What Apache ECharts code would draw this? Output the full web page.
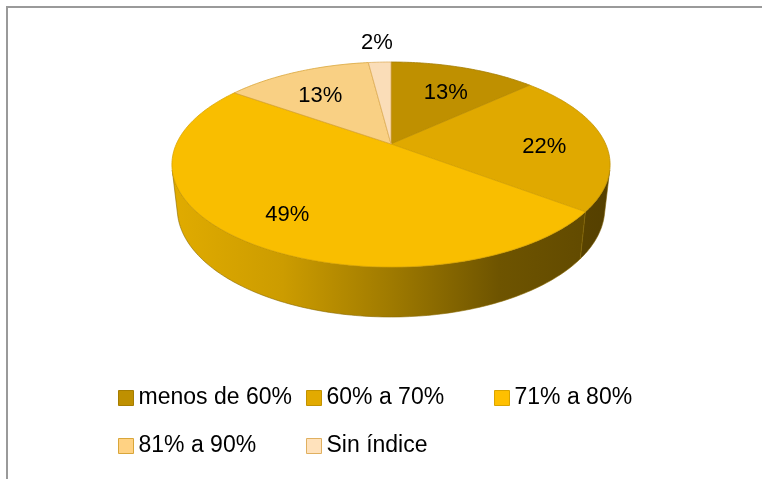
<!DOCTYPE html>
<html>
<head>
<meta charset="utf-8">
<script src="https://cdn.jsdelivr.net/npm/echarts@6/dist/echarts.min.js"></script>
<style>
  html, body { margin: 0; padding: 0; background: #fff; }
  #chart { width: 762px; height: 479px; }
</style>
</head>
<body>
<div id="chart"></div>
<script>
const categories = ['menos de 60%', '60% a 70%', '71% a 80%', '81% a 90%', 'Sin índice'];
const values = [13, 22, 49, 13, 2];
const topColors = ['#BF9000', '#E0A900', '#F9BE00', '#F9D084', '#FADDB8'];
const legendColors = ['#BF9000', '#E2AA00', '#FFC000', '#FFD283', '#FFE2BC'];
const edgeColors = ['#A67D00', '#C29200', '#D9A400', '#D9A63A', '#E0B060'];

// cumulative fractions of the whole pie
const total = values.reduce((s, v) => s + v, 0);
const starts = [];
const ends = [];
let acc = 0;
values.forEach(v => {
  starts.push(acc / total);
  acc += v;
  ends.push(acc / total);
});

// simple perspective camera for the tilted pie
const CX = 391, CY = 144;
const P = 4.44, SA = 0.4585, CA = 0.889, S = 953, H = 0.231;

function proj(r, phi, y) {
  const X = r * Math.sin(phi);
  const Z = -r * Math.cos(phi);
  const d = P - (y * SA + Z * CA);
  return [CX + S * X / d, CY + S * (-y * CA + Z * SA) / d];
}

function arc(r, a, b, y) {
  const pts = [];
  const n = Math.max(2, Math.ceil(Math.abs(b - a) / (Math.PI / 180)));
  for (let k = 0; k <= n; k++) {
    pts.push(proj(r, a + (b - a) * k / n, y));
  }
  return pts;
}

function shade(hex, f) {
  const n = parseInt(hex.slice(1), 16);
  const r = Math.round(((n >> 16) & 255) * f);
  const g = Math.round(((n >> 8) & 255) * f);
  const b = Math.round((n & 255) * f);
  return 'rgb(' + r + ',' + g + ',' + b + ')';
}

const visFrom = Math.acos(-1 / (P * CA));
const visTo = 2 * Math.PI - visFrom;
const leftX = proj(1, 1.5 * Math.PI, 0)[0] - 2;
const rightX = proj(1, 0.5 * Math.PI, 0)[0] + 2;

function renderSlice(params, api) {
  const i = params.seriesIndex;
  const a = starts[i] * 2 * Math.PI;
  const b = ends[i] * 2 * Math.PI;
  const children = [];

  // top face
  const topPts = [proj(0, 0, 0)].concat(arc(1, a, b, 0));
  children.push({
    type: 'polygon',
    shape: { points: topPts },
    style: { fill: topColors[i], stroke: edgeColors[i], lineWidth: 0.8 },
    z2: 10
  });

  // front wall
  const lo = Math.max(a, visFrom);
  const hi = Math.min(b, visTo);
  if (lo < hi) {
    const wallPts = arc(1, lo, hi, 0).concat(arc(1, hi, lo, -H));
    const base = topColors[i];
    children.push({
      type: 'polygon',
      shape: { points: wallPts },
      style: {
        fill: new echarts.graphic.LinearGradient(leftX, 0, rightX, 0, [
          { offset: 0, color: shade(base, 0.9) },
          { offset: 0.25, color: shade(base, 0.82) },
          { offset: 0.5, color: shade(base, 0.64) },
          { offset: 0.75, color: shade(base, 0.44) },
          { offset: 1, color: shade(base, 0.38) }
        ], true),
        stroke: shade(base, 0.55),
        lineWidth: 0.6
      },
      z2: 1
    });
  }

  // percentage label
  const frac = values[i] / total;
  const mid = (a + b) / 2;
  const inside = frac >= 0.05;
  const pos = proj(inside ? 0.72 : 1.3, mid, 0);
  children.push({
    type: 'text',
    x: pos[0],
    y: pos[1] + (inside ? 6 : 0),
    style: {
      text: values[i] + '%',
      fill: '#000',
      fontSize: 22,
      fontFamily: 'Liberation Sans',
      align: 'center',
      verticalAlign: 'middle'
    },
    z2: 20
  });

  return { type: 'group', children: children };
}

const chart = echarts.init(document.getElementById('chart'));

function legendCol(names, left) {
  return {
    orient: 'vertical',
    left: left,
    top: 386,
    padding: 0,
    itemGap: 24,
    itemWidth: 15,
    itemHeight: 15,
    icon: 'rect',
    selectedMode: false,
    textStyle: { fontSize: 23, fontFamily: 'Liberation Sans', color: '#000', lineHeight: 24 },
    data: names.map(n => {
      const k = categories.indexOf(n);
      return { name: n, itemStyle: { color: legendColors[k], borderColor: edgeColors[k], borderWidth: 1 } };
    })
  };
}

const option = {
  animation: false,
  graphic: [{
    type: 'rect',
    shape: { x: 7, y: 7, width: 800, height: 500 },
    style: { fill: 'none', stroke: '#9a9a9a', lineWidth: 2 },
    silent: true
  }],
  legend: [
    legendCol([categories[0], categories[3]], 118),
    legendCol([categories[1], categories[4]], 306),
    legendCol([categories[2]], 494)
  ],
  series: categories.map((name, i) => ({
    type: 'custom',
    name: name,
    coordinateSystem: 'none',
    silent: true,
    itemStyle: { color: legendColors[i], borderColor: edgeColors[i], borderWidth: 1 },
    data: [[values[i]]],
    renderItem: renderSlice
  }))
};

chart.setOption(option);
</script>
</body>
</html>
